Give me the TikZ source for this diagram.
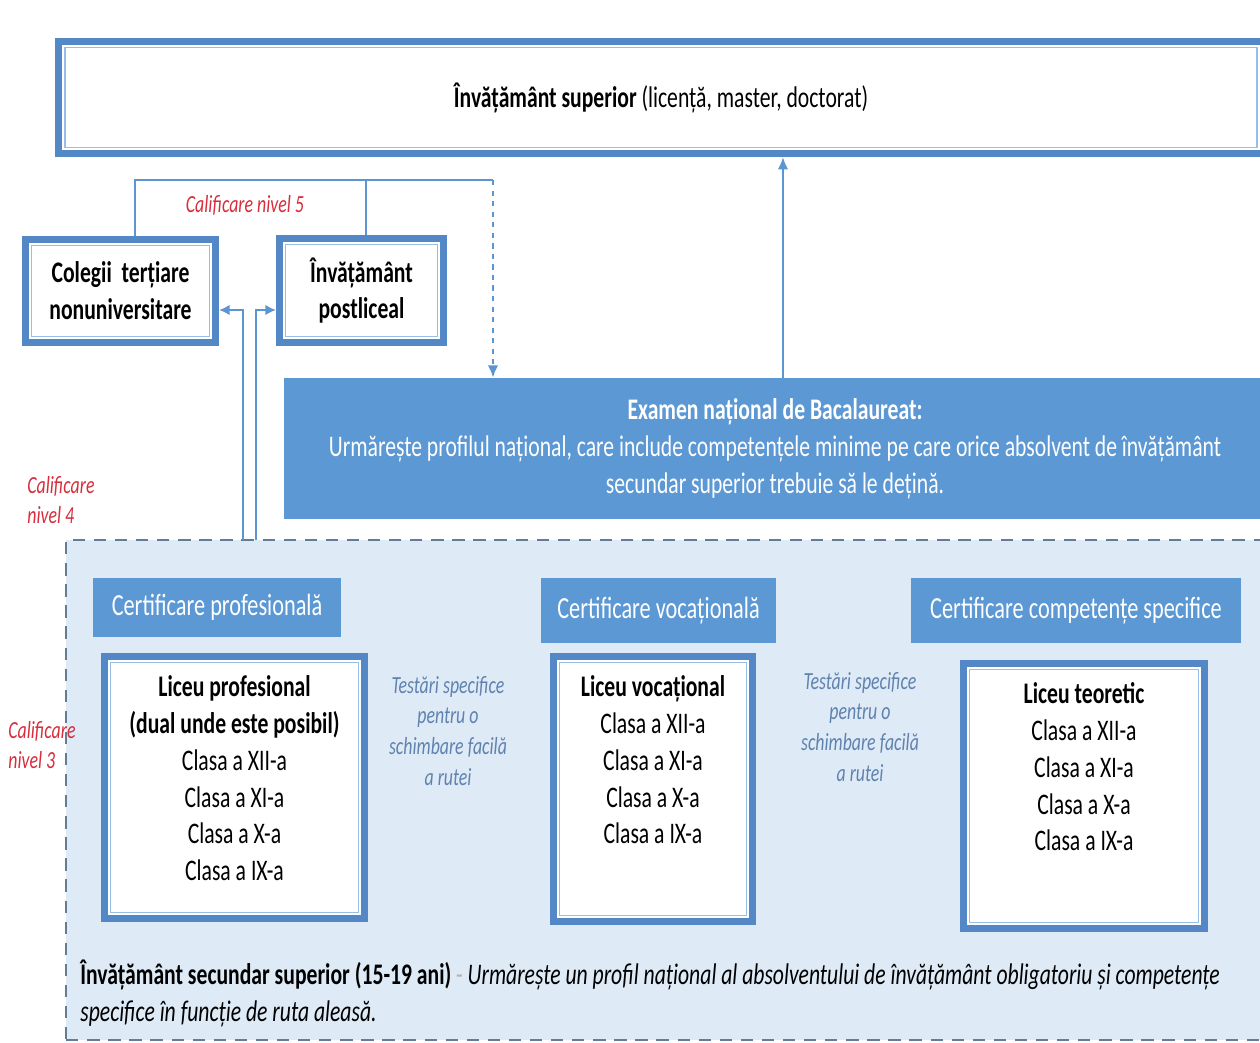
\documentclass[tikz,border=0pt]{standalone}
\usepackage{fontspec}
\setmainfont{Carlito}[FakeStretch=0.725]
\usetikzlibrary{arrows.meta}
\definecolor{bandblue}{RGB}{84,135,198}
\definecolor{fillblue}{RGB}{91,152,212}
\definecolor{lineblue}{RGB}{91,150,210}
\definecolor{paleblue}{RGB}{222,234,246}
\definecolor{thinblue}{RGB}{150,190,230}
\definecolor{dashgray}{RGB}{100,125,150}
\definecolor{labred}{RGB}{215,45,60}
\definecolor{notegray}{RGB}{95,130,175}

\begin{document}
\begin{tikzpicture}[x=0.02cm, y=-0.02cm]
    \tikzstyle{every node}=[inner sep=0pt, font=\fontsize{17}{21}\selectfont]
    \tikzstyle{framebox}=[draw=bandblue, line width=4pt, fill=white, align=center]
    \tikzstyle{innerline}=[draw=thinblue, line width=0.9pt]
    \tikzstyle{certbox}=[fill=fillblue, text=white, font=\fontsize{17.5}{21}\selectfont]
    \tikzstyle{conn}=[draw=lineblue, line width=1.4pt]
    \tikzstyle{redlabel}=[text=labred, font=\fontsize{14}{17.6}\selectfont\itshape, align=left]
    \tikzstyle{note}=[text=notegray, font=\fontsize{14}{17.6}\selectfont\itshape, align=center]
    \tikzstyle{classes}=[align=center, anchor=north]
    \useasboundingbox (0,0) rectangle (1260,1042);
    \clip (0,0) rectangle (1260,1042);
    % zona invatamant secundar superior
    \node [draw=dashgray, line width=1.3pt, dash pattern=on 7pt off 5pt, fill=paleblue, minimum width=24.08cm, minimum height=10cm] (sec) at (668,790) {};
    % casete
    \node [framebox, minimum width=24.1cm, minimum height=2.24cm] (sup) at (661,97.5) {\textbf{Învățământ superior} (licență, master, doctorat)};
    \node [framebox, minimum width=3.8cm, minimum height=2.06cm] (col) at (120.5,291) {\textbf{Colegii\, terțiare}\\\textbf{nonuniversitare}};
    \node [framebox, minimum width=3.28cm, minimum height=2.08cm] (post) at (361.5,290.5) {\textbf{Învățământ}\\\textbf{postliceal}};
    \node [fill=fillblue, text=white, align=center, minimum width=19.64cm, minimum height=2.82cm] (bac) at (775,448.5) {\textbf{Examen național de Bacalaureat:}\\Urmărește profilul național, care include competențele minime pe care orice absolvent de învățământ\\secundar superior trebuie să le dețină.};
    \node [certbox, minimum width=4.96cm, minimum height=1.18cm] (cprof) at (217,607.5) {Certificare profesională};
    \node [certbox, minimum width=4.7cm, minimum height=1.3cm] (cvoc) at (658.5,610.5) {Certificare vocațională};
    \node [certbox, minimum width=6.6cm, minimum height=1.3cm] (ccomp) at (1076,610.5) {Certificare competențe specifice};
    \node [framebox, minimum width=5.2cm, minimum height=5.24cm] (lprof) at (234.5,787.5) {};
    \node [framebox, minimum width=3.98cm, minimum height=5.3cm] (lvoc) at (653,789) {};
    \node [framebox, minimum width=4.82cm, minimum height=5.3cm] (lteo) at (1084,796) {};
    \foreach \b in {sup,col,post,lprof,lvoc,lteo}
        \draw [innerline] ([shift={(5.5pt,-5.5pt)}]\b.north west) rectangle ([shift={(-5.5pt,5.5pt)}]\b.south east);
    % clase
    \node [classes] (tprof) at (234.5,675) {\textbf{Liceu profesional}\\\textbf{(dual unde este posibil)}\\Clasa a XII-a\\Clasa a XI-a\\Clasa a X-a\\Clasa a IX-a};
    \node [classes] (tvoc) at (653,675) {\textbf{Liceu vocațional}\\Clasa a XII-a\\Clasa a XI-a\\Clasa a X-a\\Clasa a IX-a};
    \node [classes] (tteo) at (1084,682) {\textbf{Liceu teoretic}\\Clasa a XII-a\\Clasa a XI-a\\Clasa a X-a\\Clasa a IX-a};
    \node [note] (test1) at (448,731) {Testări specifice\\pentru o\\schimbare facilă\\a rutei};
    \node [note] (test2) at (860,727) {Testări specifice\\pentru o\\schimbare facilă\\a rutei};
    % etichete calificare
    \node [redlabel] (niv5) at (245,205) {Calificare nivel 5};
    \node [redlabel, anchor=west] (niv4) at (27,500) {Calificare\\nivel 4};
    \node [redlabel, anchor=west] (niv3) at (8,745) {Calificare\\nivel 3};
    \node [anchor=north west, align=left] (desc) at (80,960) {\textbf{Învățământ secundar superior (15-19 ani)} {\color{gray!60}-} \textit{Urmărește un profil național al absolventului de învățământ obligatoriu și competențe}\\\textit{specifice în funcție de ruta aleasă.}};
    % legaturi
    \coordinate (jl) at (135,180);
    \coordinate (jr) at (493,180);
    \coordinate (u1) at (243,540);
    \coordinate (u2) at (256,540);
    \coordinate (kl) at (243,310);
    \coordinate (kr) at (256,310);
    \draw [conn] (col.north -| jl) -- (jl) -- (jr);
    \draw [conn] (post.north -| 366,0) -- (366,180);
    \draw [conn, dashed, -{Latex[length=7pt,width=6pt]}] (jr) -- (jr |- bac.north);
    \draw [conn, -{Latex[length=7pt,width=6pt]}] (bac.north -| 783,0) -- (sup.south -| 783,0);
    \draw [conn, -{Latex[length=6pt,width=6pt]}] (u1) -- (kl) -- (kl -| col.east);
    \draw [conn, -{Latex[length=6pt,width=6pt]}] (u2) -- (kr) -- (kr -| post.west);
\end{tikzpicture}
\end{document}
